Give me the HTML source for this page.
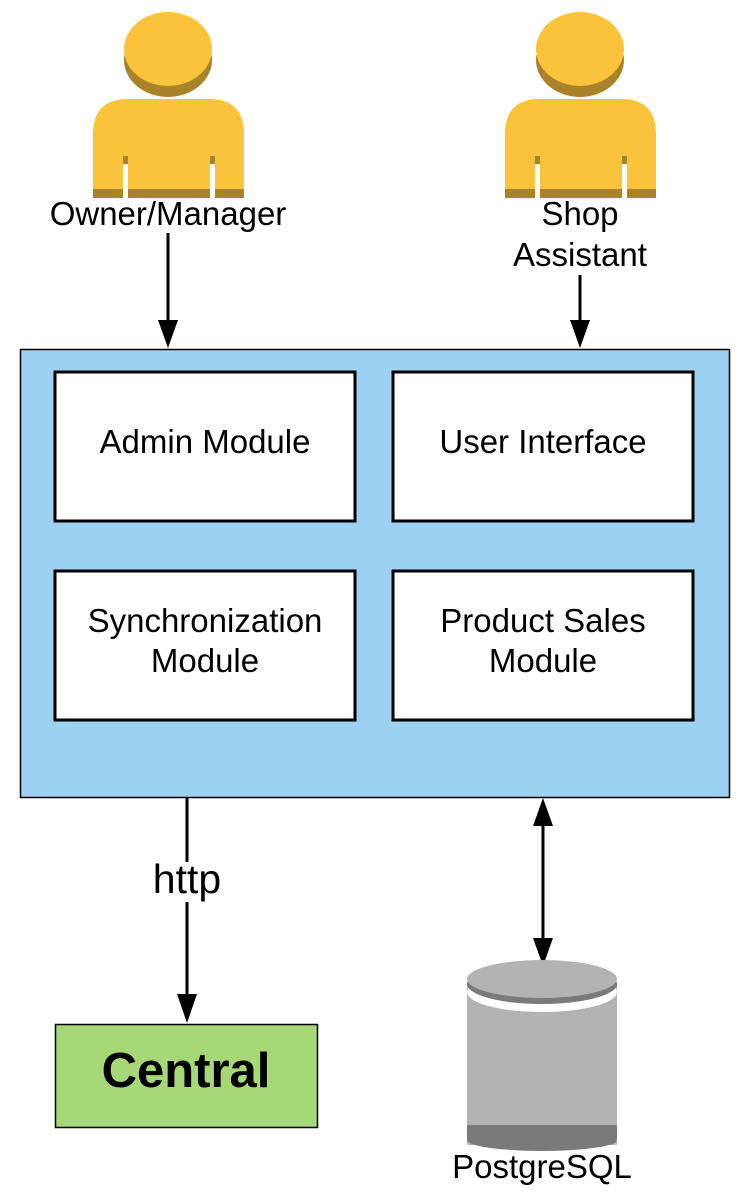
<!DOCTYPE html>
<html><head><style>
body{margin:0;background:#fff;}
svg{display:block;font-family:"Liberation Sans",sans-serif;}
</style></head><body>
<svg width="750" height="1200" viewBox="0 0 750 1200">
<defs>
<g id="person">
<ellipse cx="168" cy="60" rx="44" ry="37" fill="#a8832a"/>
<ellipse cx="168" cy="49" rx="44" ry="37" fill="#fbc23c"/>
<path d="M93,198 V134 Q93,99 128,99 H209 Q244,99 244,134 V198 Z" fill="#fbc23c"/>
<rect x="93" y="189" width="151" height="9" fill="#a8832a"/>
<rect x="123" y="156" width="5" height="8" fill="#a8832a"/>
<rect x="210" y="156" width="5" height="8" fill="#a8832a"/>
<rect x="123" y="164" width="5" height="35" fill="#fff"/>
<rect x="210" y="164" width="5" height="35" fill="#fff"/>
</g>
</defs>
<use href="#person"/>
<use href="#person" x="412"/>
<g font-size="33" text-anchor="middle">
<text x="168" y="225">Owner/Manager</text>
<text x="580" y="225">Shop</text>
<text x="580" y="266">Assistant</text>
</g>
<line x1="168" y1="233" x2="168" y2="326" stroke="#000" stroke-width="3"/>
<path d="M158,320 L178,320 L168,348 Z"/>
<line x1="580" y1="275" x2="580" y2="326" stroke="#000" stroke-width="3"/>
<path d="M570,320 L590,320 L580,348 Z"/>
<rect x="20.5" y="349.5" width="709" height="448" fill="#9dd1f2" stroke="#000" stroke-width="1.5"/>
<g fill="#fff" stroke="#000" stroke-width="3">
<rect x="55" y="372" width="300" height="149"/>
<rect x="393" y="372" width="300" height="149"/>
<rect x="55" y="571" width="300" height="149"/>
<rect x="393" y="571" width="300" height="149"/>
</g>
<g font-size="33" text-anchor="middle">
<text x="205" y="453">Admin Module</text>
<text x="543" y="453">User Interface</text>
<text x="205" y="632">Synchronization</text>
<text x="205" y="672">Module</text>
<text x="543" y="632">Product Sales</text>
<text x="543" y="672">Module</text>
</g>
<line x1="187" y1="798" x2="187" y2="1000" stroke="#000" stroke-width="3"/>
<path d="M177,994 L197,994 L187,1023 Z"/>
<rect x="148" y="862" width="78" height="40" fill="#fff"/>
<text x="187" y="893" font-size="41" text-anchor="middle">http</text>
<rect x="55.5" y="1024.5" width="262" height="103" fill="#a6d877" stroke="#000" stroke-width="1.5"/>
<text x="186" y="1087" font-size="49" font-weight="bold" text-anchor="middle">Central</text>
<line x1="543" y1="820" x2="543" y2="944" stroke="#000" stroke-width="3"/>
<path d="M533,826 L553,826 L543,798 Z"/>
<path d="M533,938 L553,938 L543,966 Z"/>
<rect x="467" y="983" width="150" height="162" fill="#b3b3b3"/>
<ellipse cx="542" cy="1140" rx="75" ry="11" fill="#7a7a7a"/>
<rect x="467" y="1125" width="150" height="15" fill="#7a7a7a"/>
<ellipse cx="542" cy="992" rx="75" ry="20" fill="#fff"/>
<ellipse cx="542" cy="984" rx="75" ry="20" fill="#7a7a7a"/>
<ellipse cx="542" cy="979" rx="75" ry="19" fill="#b3b3b3"/>
<text x="542" y="1178" font-size="33" text-anchor="middle">PostgreSQL</text>
</svg>
</body></html>
